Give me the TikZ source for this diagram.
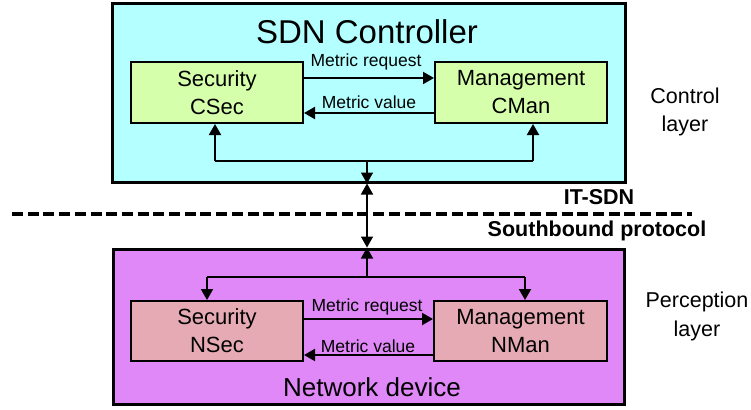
\documentclass[tikz,border=0pt]{standalone}
\usepackage{fontspec}
\setmainfont{Liberation Sans}
\usetikzlibrary{arrows.meta}

\definecolor{ctrlfill}{RGB}{180,255,255}
\definecolor{ctrlinner}{RGB}{214,255,172}
\definecolor{devfill}{RGB}{224,136,248}
\definecolor{devinner}{RGB}{230,170,180}

\tikzset{
  layerbox/.style={draw=black, line width=3pt, rectangle, inner sep=0pt},
  modbox/.style={draw=black, line width=2pt, rectangle, inner sep=0pt,
    minimum width=172pt, align=center,
    font=\fontsize{22}{28}\selectfont},
  msg/.style={line width=2pt, -{Triangle[length=11pt,width=12pt]}},
  link/.style={line width=1.6pt, -{Triangle[length=11pt,width=12pt]}},
  msglabel/.style={font=\fontsize{17.5}{20}\selectfont, inner sep=0pt},
  sidelabel/.style={font=\fontsize{21.5}{28.5}\selectfont, align=center, inner sep=0pt},
  boldlabel/.style={font=\fontsize{21.5}{24}\selectfont\bfseries, inner sep=0pt},
}

\begin{document}
\begin{tikzpicture}[x=1pt, y=-1pt]
\useasboundingbox (0,0) rectangle (751,409);

% layer containers
\node[layerbox, fill=ctrlfill, minimum width=513pt, minimum height=178pt] (ctrl) at (368.5,93) {};
\node[layerbox, fill=devfill, minimum width=511pt, minimum height=155pt] (dev) at (368.5,326.5) {};

% controller modules
\node[modbox, fill=ctrlinner, minimum height=61pt] (csec) at (217,92.5) {Security\\CSec};
\node[modbox, fill=ctrlinner, minimum height=61pt] (cman) at (521,92.5) {Management\\CMan};

% device modules
\node[modbox, fill=devinner, minimum height=60pt] (nsec) at (217,331) {Security\\NSec};
\node[modbox, fill=devinner, minimum height=60pt, minimum width=173pt] (nman) at (520.5,331) {Management\\NMan};

% titles
\node[font=\fontsize{33}{36}\selectfont, inner sep=0pt] (ctitle) at (367,32) {SDN Controller};
\node[font=\fontsize{26}{30}\selectfont, inner sep=0pt] (dtitle) at (372,387) {Network device};

% controller message exchange
\draw[msg] (csec.east |- 0,78) -- (cman.west |- 0,78);
\draw[msg] (cman.west |- 0,113) -- (csec.east |- 0,113);
\node[msglabel] (creq) at (366,62) {Metric request};
\node[msglabel] (cval) at (369,102) {Metric value};

% device message exchange
\draw[msg] (nsec.east |- 0,319) -- (nman.west |- 0,319);
\draw[msg] (nman.west |- 0,355) -- (nsec.east |- 0,355);
\node[msglabel] (nreq) at (367,307) {Metric request};
\node[msglabel] (nval) at (368,346) {Metric value};

% controller internal bus
\coordinate (cj) at (367,161);
\coordinate (cl) at (215,161);
\coordinate (cr) at (533,161);
\draw[line width=2pt] (cl) -- (cr);
\draw[msg] (cl) -- (cl |- csec.south);
\draw[msg] (cr) -- (cr |- cman.south);
\draw[link] (cj) -- (cj |- ctrl.south);

% southbound link between the layers
\draw[link, {Triangle[length=11pt,width=12pt]}-{Triangle[length=11pt,width=12pt]}]
  (cj |- ctrl.south) -- (cj |- dev.north);

% device internal bus
\coordinate (dj) at (367,277);
\coordinate (dl) at (207,277);
\coordinate (dr) at (525,277);
\draw[line width=2pt] (dl) -- (dr);
\draw[msg] (dl) -- (dl |- nsec.north);
\draw[msg] (dr) -- (dr |- nman.north);
\draw[link] (dj) -- (dj |- dev.north);

% boundary between the layers
\coordinate (bl) at (12,214);
\coordinate (br) at (692,214);
\draw[line width=4pt, dash pattern=on 11pt off 4.7pt] (bl) -- (br);
\node[boldlabel] (itsdn) at (599,197) {IT-SDN};
\node[boldlabel] (south) at (597,231) {Southbound protocol};

% layer names
\node[sidelabel] (clayer) at (685,112) {Control\\layer};
\node[sidelabel] (player) at (697,316.5) {Perception\\layer};
\end{tikzpicture}
\end{document}
